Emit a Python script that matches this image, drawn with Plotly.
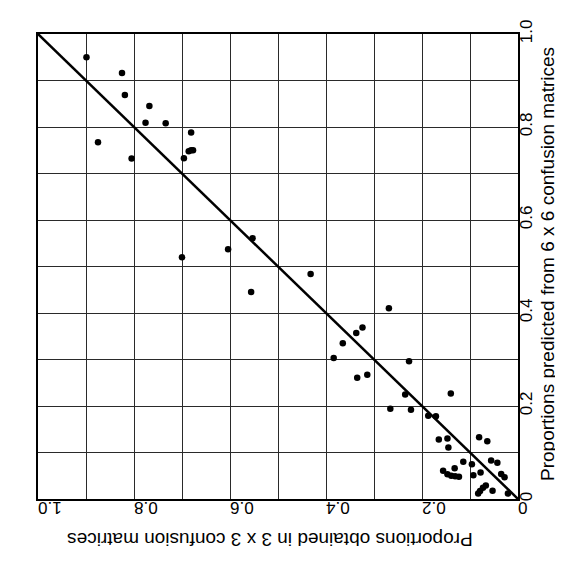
import plotly.graph_objects as go

# x: proportions obtained in 3x3 confusion matrices, y: predicted from 6x6
obtained_3x3 = [0.899, 0.825, 0.819, 0.768, 0.776, 0.734, 0.681, 0.875, 0.805, 0.686,
                0.681, 0.677, 0.696, 0.553, 0.604, 0.700, 0.556, 0.432, 0.269, 0.324,
                0.337, 0.365, 0.384, 0.227, 0.314, 0.335, 0.235, 0.140, 0.266, 0.223,
                0.187, 0.171, 0.165, 0.147, 0.145, 0.081, 0.064, 0.114, 0.096, 0.132,
                0.156, 0.147, 0.139, 0.131, 0.123, 0.093, 0.078, 0.056, 0.043, 0.035,
                0.028, 0.067, 0.073, 0.079, 0.083, 0.053, 0.021]
predicted_6x6 = [0.950, 0.916, 0.869, 0.845, 0.809, 0.808, 0.788, 0.767, 0.732, 0.748,
                 0.750, 0.750, 0.733, 0.561, 0.537, 0.520, 0.445, 0.484, 0.410, 0.369,
                 0.357, 0.335, 0.303, 0.296, 0.267, 0.261, 0.225, 0.227, 0.194, 0.192,
                 0.179, 0.178, 0.128, 0.130, 0.111, 0.133, 0.124, 0.080, 0.075, 0.066,
                 0.061, 0.053, 0.050, 0.049, 0.048, 0.051, 0.057, 0.083, 0.078, 0.054,
                 0.047, 0.029, 0.024, 0.017, 0.012, 0.018, 0.012]
identity_line = [0.0, 1.0]

tick_vals = [0.0, 0.1, 0.2, 0.3, 0.4, 0.5, 0.6, 0.7, 0.8, 0.9, 1.0]
tick_text = ["0", "", "0.2", "", "0.4", "", "0.6", "", "0.8", "", "1.0"]

x_title = "Proportions obtained in 3 x 3 confusion matrices"
y_title = "Proportions predicted from 6 x 6 confusion matrices"

FONT = "Liberation Sans, Arial, sans-serif"

fig = go.Figure()
fig.add_trace(go.Scatter(x=identity_line, y=identity_line, mode="lines",
                         line=dict(color="black", width=2.5), showlegend=False,
                         hoverinfo="skip"))
fig.add_trace(go.Scatter(x=obtained_3x3, y=predicted_6x6, mode="markers",
                         marker=dict(color="black", size=6.5), showlegend=False))

axis_common = dict(
    range=[0, 1], tickvals=tick_vals, ticktext=tick_text,
    showgrid=True, gridcolor="#2a2a2a", gridwidth=1,
    showline=True, linecolor="black", linewidth=2, mirror=True,
    zeroline=False, ticks="",
    tickfont=dict(family=FONT, size=17, color="black"),
)

fig.update_xaxes(**axis_common)
fig.update_xaxes(range=[1, 0], tickangle=180, ticklabelstandoff=-2)
fig.update_yaxes(**axis_common)
fig.update_yaxes(side="right", tickangle=-90, ticklabelstandoff=-8)

fig.add_annotation(text=x_title, xref="paper", yref="paper", x=0.483, y=-0.087,
                   showarrow=False, textangle=180,
                   font=dict(family=FONT, size=19, color="black"),
                   xanchor="center", yanchor="middle")
fig.add_annotation(text=y_title, xref="paper", yref="paper", x=1.060, y=0.505,
                   showarrow=False, textangle=-90,
                   font=dict(family=FONT, size=19, color="black"),
                   xanchor="center", yanchor="middle")

fig.update_layout(
    width=563, height=561,
    margin=dict(l=30, r=53, t=17, b=70),
    paper_bgcolor="white", plot_bgcolor="white",
    showlegend=False,
)

fig.write_html("out.html")
